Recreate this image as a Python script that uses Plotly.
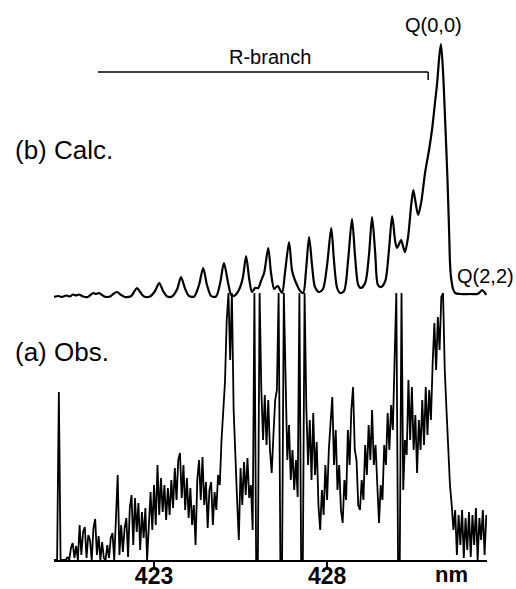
import numpy as np
import plotly.graph_objects as go

# ---------------- data ----------------
# (a) observed spectrum, sampled every 0.05 nm from 420.10 nm (arb. intensity, clipped at 267)
obs_start_nm = 420.10
obs_step_nm = 0.05
obs_intensity = [
    0, 0, 0, 168, 0, 0, 0, 0, 3, 0,
    12, 17, 2, 14, 0, 35, 5, 28, 33, 2,
    25, 20, 0, 32, 41, 5, 24, 0, 18, 2,
    0, 15, 2, 22, 27, 0, 42, 85, 5, 35,
    8, 32, 42, 3, 52, 65, 15, 62, 28, 57,
    10, 48, 22, 52, 0, 40, 68, 30, 75, 35,
    95, 45, 82, 48, 75, 40, 72, 45, 80, 52,
    92, 60, 100, 107, 62, 95, 50, 82, 42, 72,
    35, 55, 15, 80, 100, 60, 103, 55, 78, 32,
    70, 78, 35, 68, 50, 85, 75, 120, 150, 178,
    240, 267, 200, 267, 150, 95, 60, 20, 92, 55,
    98, 65, 102, 62, 75, 30, 267, 0, 0, 267,
    170, 120, 165, 115, 160, 110, 87, 125, 160, 170,
    267, 0, 0, 267, 180, 100, 135, 80, 110, 70,
    100, 63, 267, 0, 0, 267, 153, 95, 140, 80,
    147, 85, 118, 55, 30, 70, 45, 95, 60, 110,
    137, 163, 95, 130, 70, 95, 50, 37, 80, 60,
    130, 95, 150, 173, 110, 100, 55, 50, 80, 60,
    115, 85, 135, 100, 150, 95, 115, 70, 37, 75,
    60, 115, 95, 147, 110, 155, 130, 200, 267, 0,
    0, 267, 70, 120, 105, 180, 120, 173, 110, 145,
    87, 140, 110, 160, 115, 173, 125, 170, 140, 197,
    237, 190, 243, 210, 263, 267, 190, 150, 115, 75,
    55, 30, 50, 5, 45, 15, 50, 2, 42, 10,
    48, 3, 45, 15, 52, 0, 42, 20, 50, 5,
    45,
]

# (b) calculated spectrum (wavelength nm, arb. intensity above its own baseline)
calc_nm = [
    420.11, 420.23, 420.34, 420.46, 420.57, 420.66, 420.75, 420.83, 420.95, 421.09,
    421.24, 421.32, 421.41, 421.56, 421.73, 421.82, 421.93, 422.05, 422.16, 422.34,
    422.42, 422.51, 422.60, 422.71, 422.88, 423.03, 423.15, 423.26, 423.38, 423.52,
    423.67, 423.78, 423.90, 424.01, 424.16, 424.30, 424.42, 424.53, 424.65, 424.79,
    424.91, 425.02, 425.14, 425.23, 425.31, 425.40, 425.49, 425.57, 425.66, 425.75,
    425.83, 425.92, 426.01, 426.09, 426.18, 426.30, 426.38, 426.47, 426.53, 426.58,
    426.64, 426.70, 426.79, 426.90, 426.99, 427.08, 427.13, 427.22, 427.31, 427.39,
    427.48, 427.57, 427.65, 427.77, 427.88, 428.00, 428.12, 428.20, 428.29, 428.38,
    428.49, 428.61, 428.72, 428.81, 428.90, 428.98, 429.10, 429.21, 429.30, 429.39,
    429.47, 429.56, 429.68, 429.79, 429.88, 429.97, 430.02, 430.08, 430.14, 430.20,
    430.25, 430.34, 430.43, 430.49, 430.54, 430.63, 430.72, 430.83, 430.95, 431.03,
    431.12, 431.18, 431.24, 431.29, 431.35, 431.41, 431.47, 431.50, 431.53, 431.55,
    431.58, 431.64, 431.70, 431.84, 432.13, 432.34, 432.42, 432.48, 432.54, 432.60,
]
calc_intensity = [
    0, 1, 0, 1.5, 0.5, 2.5, 1.5, 2.5, 0.5, 0,
    4, 3, 4, 0.5, 0.5, 3, 5, 2, 0, 1,
    5, 9, 5, 0.5, 0.5, 6, 14, 6, 0.5, 0.5,
    8, 20, 8, 1, 0.5, 12, 29, 12, 1, 0.5,
    14, 34, 14, 2, 1, 4, 10, 20, 41, 18,
    5, 9, 9, 16, 24, 49, 24, 8, 10, 11,
    7, 4, 26, 55, 26, 16, 12, 6, 4, 26,
    60, 30, 10, 5, 8, 32, 69, 36, 9, 4,
    6, 38, 78, 40, 12, 9, 14, 42, 80, 44,
    12, 10, 16, 48, 81, 55, 49, 53, 57, 50,
    45, 60, 92, 107, 98, 82, 95, 124, 148, 167,
    195, 214, 240, 253, 225, 177, 125, 94, 60, 35,
    20, 8, 4, 3, 3, 3, 5, 7, 5, 2,
]
calc_offset = 263  # vertical offset of trace (b) above trace (a)

tick_vals = [423, 428]
tick_text = ["423", "428"]

# annotation anchors (data coordinates)
r_branch_start_nm = 421.38
r_branch_end_nm = 430.92
r_branch_level = 488
r_branch_tick_bottom = 480

# ---------------- figure ----------------
obs_nm = np.round(obs_start_nm + obs_step_nm * np.arange(len(obs_intensity)), 3)
calc_y = [calc_offset + v for v in calc_intensity]

FONT = "Liberation Sans, Arial, sans-serif"

fig = go.Figure()
fig.add_trace(go.Scatter(x=obs_nm, y=obs_intensity, mode="lines",
                         line=dict(color="black", width=1.8), hoverinfo="skip",
                         showlegend=False))
fig.add_trace(go.Scatter(x=calc_nm, y=calc_y, mode="lines",
                         line=dict(color="black", width=2.2, shape="spline", smoothing=0.8),
                         hoverinfo="skip", showlegend=False))

# R-branch bracket
fig.add_shape(type="line", x0=r_branch_start_nm, x1=r_branch_end_nm,
              y0=r_branch_level, y1=r_branch_level, line=dict(color="black", width=1.5))
fig.add_shape(type="line", x0=r_branch_end_nm, x1=r_branch_end_nm,
              y0=r_branch_level, y1=r_branch_tick_bottom, line=dict(color="black", width=1.5))

ann_font = dict(family=FONT, size=20, color="black")
fig.add_annotation(x=426.35, y=503, text="R-branch", showarrow=False, font=ann_font)
fig.add_annotation(x=431.06, y=535, text="Q(0,0)", showarrow=False, font=ann_font)
fig.add_annotation(x=432.57, y=284, text="Q(2,2)", showarrow=False, font=ann_font)
fig.add_annotation(xref="paper", x=-0.095, y=410, xanchor="left", text="(b) Calc.",
                   showarrow=False, font=dict(family=FONT, size=26, color="black"))
fig.add_annotation(xref="paper", x=-0.095, y=208, xanchor="left", text="(a) Obs.",
                   showarrow=False, font=dict(family=FONT, size=26, color="black"))
fig.add_annotation(xref="paper", yref="paper", x=0.961, y=-0.026, text="<b>nm</b>",
                   showarrow=False, yanchor="middle",
                   font=dict(family=FONT, size=22, color="black"))

fig.update_layout(
    width=516, height=589,
    margin=dict(l=54, r=29, t=20, b=29),
    paper_bgcolor="white", plot_bgcolor="white",
    font=dict(family=FONT, color="black"),
    xaxis=dict(range=[420.11, 432.62], showgrid=False, zeroline=False, automargin=False,
               showline=True, linecolor="black", linewidth=2,
               ticks="outside", ticklen=5, tickwidth=2, tickcolor="black",
               ticklabelstandoff=-11,
               tickvals=tick_vals, ticktext=tick_text,
               tickfont=dict(family=FONT, size=23, color="black", weight="bold")),
    yaxis=dict(range=[0, 540], visible=False, automargin=False),
)

fig.write_html("out.html", config={"displayModeBar": False},
               post_script="document.body.style.margin='0px';document.body.style.overflow='hidden';")
